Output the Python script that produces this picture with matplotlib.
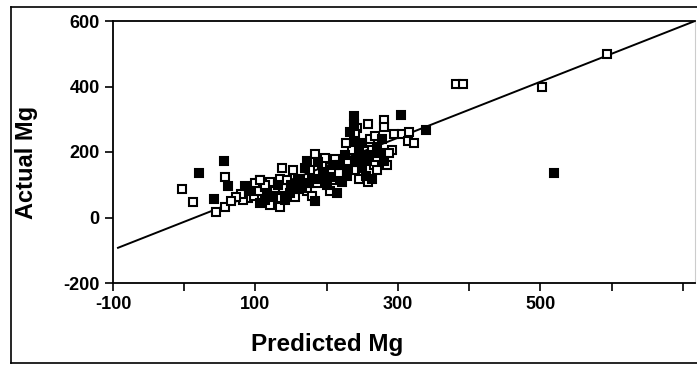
import matplotlib
matplotlib.use("Agg")
import matplotlib.pyplot as plt
from matplotlib.lines import Line2D

plt.rcParams['font.family'] = ['Liberation Sans', 'DejaVu Sans']
plt.rcParams['axes.unicode_minus'] = False

# open squares (predicted, actual)
open_x = [-3, 13, 57, 45, 57, 382, 392, 502, 593,
          89, 98, 82, 105, 107, 114, 121, 127, 138, 135, 144, 137, 152, 135, 121, 155, 156, 99, 80, 73, 66, 113,
          184, 199, 176, 208, 212, 229, 236, 227, 243, 163, 173, 187, 208, 180, 217, 194, 205,
          261, 268, 294, 305, 314, 322, 291, 264, 243, 266, 240, 271, 285, 246, 258,
          258, 280, 280, 106, 135, 198, 240, 316, 288]
open_y = [86, 46, 125, 18, 31, 409, 409, 397, 498,
          61, 67, 52, 82, 113, 92, 107, 82, 89, 119, 113, 150, 144, 61, 37, 98, 64, 104, 73, 64, 49, 98,
          195, 180, 144, 144, 180, 174, 205, 226, 272, 119, 82, 104, 113, 67, 137, 159, 82,
          241, 250, 256, 256, 235, 226, 205, 205, 180, 159, 144, 144, 159, 119, 107,
          287, 299, 275, 116, 31, 183, 256, 260, 198]

# filled squares
fill_x = [56, 21, 61, 42, 519, 340,
          91, 117, 131, 142, 113, 106, 148, 85, 124,
          173, 188, 219, 238, 233, 166, 194, 201, 222, 229, 183, 159, 169, 180, 215,
          278, 250, 252, 257, 250, 280, 273, 255, 264,
          238, 238, 304,
          150, 160, 175, 195, 205, 210, 225, 240, 245, 260, 270, 230]
fill_y = [174, 137, 95, 58, 137, 266,
          82, 67, 98, 52, 52, 43, 76, 95, 67,
          174, 168, 159, 235, 260, 89, 119, 98, 107, 128, 49, 119, 150, 119, 76,
          241, 229, 189, 174, 150, 174, 198, 128, 119,
          311, 287, 314,
          100, 88, 105, 140, 125, 160, 190, 170, 200, 190, 215, 145]

# fitted line: actual = intercept + slope * predicted
intercept, slope = -13, 0.855
line_x = [-93, 720]

fig = plt.figure(figsize=(6.97, 3.67), dpi=100)
ax = fig.add_axes([113 / 697, 1 - 283 / 367, (695 - 113) / 697, (283 - 21) / 367])

ax.plot(line_x, [intercept + slope * v for v in line_x], color='black', lw=1.4, zorder=2)
ax.plot(open_x, open_y, 's', ms=6.2, mfc='white', mec='black', mew=1.5, ls='none', zorder=3)
ax.plot(fill_x, fill_y, 's', ms=6.2, mfc='black', mec='black', mew=1.5, ls='none', zorder=3)

ax.set_xlim(-100, 717)
ax.set_ylim(-200, 600)
ax.set_xticks(range(-100, 701, 100))
ax.set_xticklabels(['-100', '', '100', '', '300', '', '500', '', ''])
ax.set_yticks([-200, 0, 200, 400, 600])
ax.tick_params(labelsize=13, length=6, width=1.2, direction='out')
for lab in ax.get_xticklabels() + ax.get_yticklabels():
    lab.set_fontweight('bold')
for s in ['left', 'bottom', 'top']:
    ax.spines[s].set_linewidth(1.3)
ax.spines['right'].set_color('#cccccc')
ax.spines['right'].set_linewidth(0.8)

fig.text(327 / 697, 1 - 345 / 367, 'Predicted Mg', ha='center', va='center',
         fontsize=17.5, fontweight='bold')
fig.text(27 / 697, 1 - 162 / 367, 'Actual Mg', ha='center', va='center',
         rotation=90, fontsize=17, fontweight='bold')

# outer border of the scanned figure
fx0 = 11 / 697
ftop = 1 - 7 / 367
fbot = 1 - 363 / 367
for xs, ys in [([fx0, fx0], [fbot, ftop]), ([fx0, 1], [ftop, ftop]), ([fx0, 1], [fbot, fbot])]:
    fig.add_artist(Line2D(xs, ys, color='black', lw=1.2, transform=fig.transFigure))

fig.savefig('out.png', dpi=100)
